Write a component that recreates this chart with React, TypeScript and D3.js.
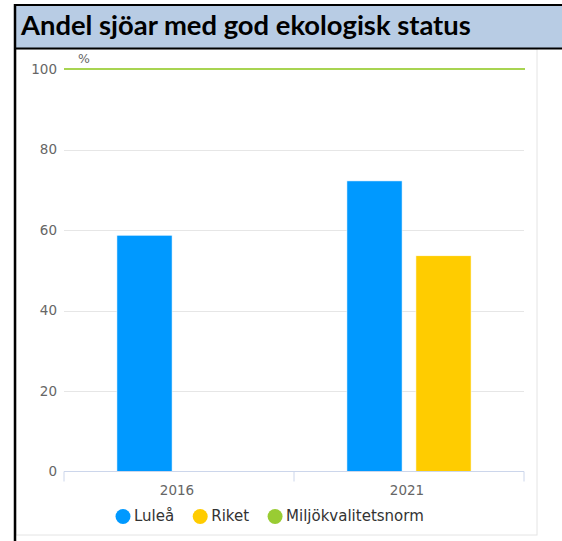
import React, { useEffect, useRef } from "react";
import * as d3 from "d3";

const TITLE = "Andel sjöar med god ekologisk status";
const CATEGORIES = ["2016", "2021"];
const SERIES_NAMES = ["Luleå", "Riket"];
const LULEA = [58.7, 72.2];
const RIKET = [null, 53.6];
const NORM_NAME = "Miljökvalitetsnorm";
const NORM_VALUE = 100;
const Y_TICKS = [0, 20, 40, 60, 80, 100];
const Y_UNIT = "%";
const COLORS = ["#0099ff", "#ffcc00", "#99cc33"];

const W = 562;
const H = 541;
const FONT = "'DejaVu Sans', Verdana, sans-serif";

export default function App() {
  const ref = useRef<SVGSVGElement | null>(null);

  useEffect(() => {
    document.body.style.margin = "0";
    const svg = d3.select(ref.current);
    svg.selectAll("*").remove();

    // frame
    svg.append("rect").attr("x", 16).attr("y", 49).attr("width", 521).attr("height", 486)
      .attr("fill", "#fff").attr("stroke", "#e4e4e4").attr("stroke-width", 1);
    svg.append("rect").attr("x", 15).attr("y", 5).attr("width", W - 15).attr("height", 43)
      .attr("fill", "#b8cce4");
    svg.append("line").attr("x1", 14).attr("x2", W).attr("y1", 5).attr("y2", 5)
      .attr("stroke", "#000").attr("stroke-width", 2);
    svg.append("line").attr("x1", 14).attr("x2", W).attr("y1", 48.5).attr("y2", 48.5)
      .attr("stroke", "#000").attr("stroke-width", 2);
    svg.append("line").attr("x1", 15).attr("x2", 15).attr("y1", 4).attr("y2", H)
      .attr("stroke", "#000").attr("stroke-width", 2.5);

    const title = svg.append("text").attr("x", 21).attr("y", 35)
      .attr("font-family", "Lato, 'Open Sans', sans-serif").attr("font-weight", 700)
      .attr("font-size", 25).attr("fill", "#000").text(TITLE);
    const tl = (title.node() as SVGTextElement).getComputedTextLength();
    if (tl > 0) title.attr("font-size", 25 * 450 / tl);

    const left = 64, right = 524, top = 69, bottom = 471.5;
    const y = d3.scaleLinear().domain([0, 100]).range([bottom, top]);
    const x0 = d3.scaleBand().domain(CATEGORIES).range([left, right]).paddingInner(0).paddingOuter(0);
    const groupPad = 0.2 * x0.bandwidth();
    const x1 = d3.scaleBand().domain(SERIES_NAMES)
      .range([groupPad, x0.bandwidth() - groupPad]).paddingInner(0.2).paddingOuter(0.1);

    // grid
    svg.append("g").selectAll("line").data(Y_TICKS.filter(t => t > 0 && t < 100)).join("line")
      .attr("x1", left).attr("x2", right)
      .attr("y1", d => Math.round(y(d)) + 0.5).attr("y2", d => Math.round(y(d)) + 0.5)
      .attr("stroke", "#e6e6e6").attr("stroke-width", 1);

    // y labels
    svg.append("g").selectAll("text").data(Y_TICKS).join("text")
      .attr("x", left - 7).attr("y", d => y(d)).attr("dy", "0.36em")
      .attr("text-anchor", "end").attr("font-family", FONT).attr("font-size", 13.5)
      .attr("fill", "#666").text(d => String(d));
    svg.append("text").attr("x", 78).attr("y", 63).attr("font-family", FONT)
      .attr("font-size", 12.5).attr("fill", "#666").text(Y_UNIT);

    // bars
    const seriesVals = [LULEA, RIKET];
    SERIES_NAMES.forEach((name, si) => {
      const data = CATEGORIES.map((c, i) => ({ c, v: seriesVals[si][i] })).filter(d => d.v != null) as { c: string; v: number }[];
      svg.append("g").selectAll("rect").data(data).join("rect")
        .attr("x", d => (x0(d.c) as number) + (x1(name) as number))
        .attr("width", x1.bandwidth())
        .attr("y", d => y(d.v))
        .attr("height", d => y(0) - y(d.v))
        .attr("fill", COLORS[si]).attr("stroke", "#fff").attr("stroke-width", 0.6);
    });

    // x axis
    svg.append("line").attr("x1", left).attr("x2", right).attr("y1", bottom).attr("y2", bottom)
      .attr("stroke", "#ccd6eb").attr("stroke-width", 1);
    const tickPos = [left, ...CATEGORIES.map(c => (x0(c) as number) + x0.bandwidth())];
    svg.append("g").selectAll("line").data(tickPos).join("line")
      .attr("x1", d => d).attr("x2", d => d).attr("y1", bottom).attr("y2", bottom + 10)
      .attr("stroke", "#ccd6eb").attr("stroke-width", 1);
    svg.append("g").selectAll("text").data(CATEGORIES).join("text")
      .attr("x", d => (x0(d) as number) + x0.bandwidth() / 2 - 2).attr("y", 494.5)
      .attr("text-anchor", "middle").attr("font-family", FONT).attr("font-size", 13.5)
      .attr("fill", "#666").text(d => d);

    // norm line
    svg.append("line").attr("x1", left).attr("x2", right + 1)
      .attr("y1", y(NORM_VALUE)).attr("y2", y(NORM_VALUE))
      .attr("stroke", COLORS[2]).attr("stroke-opacity", 0.85).attr("stroke-width", 2);

    // legend
    const names = [...SERIES_NAMES, NORM_NAME];
    const lg = svg.append("g");
    let cx = 123;
    names.forEach((n, i) => {
      lg.append("circle").attr("cx", cx).attr("cy", 516.5).attr("r", 7.5).attr("fill", COLORS[i]);
      const t = lg.append("text").attr("x", cx + 11).attr("y", 521).attr("font-family", FONT)
        .attr("font-size", 15).attr("fill", "#333").text(n);
      const w = (t.node() as SVGTextElement).getComputedTextLength();
      cx += 11 + w + 26;
    });
  }, []);

  return (
    <svg ref={ref} width={W} height={H} style={{ display: "block", background: "#fff" }} />
  );
}
